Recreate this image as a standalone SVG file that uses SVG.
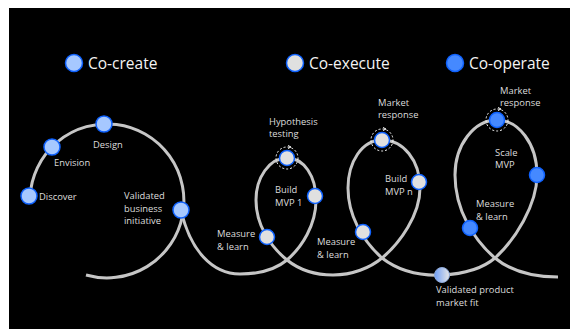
<svg xmlns="http://www.w3.org/2000/svg" width="570" height="329" viewBox="0 0 570 329">
<defs>
<linearGradient id="pmf" x1="0" y1="0" x2="1" y2="0">
<stop offset="0" stop-color="#6f9ef5"/>
<stop offset="1" stop-color="#e6e6e6"/>
</linearGradient>
<style>
.curve{fill:none;stroke:#c6c6c6;stroke-width:3;stroke-linecap:butt}
.create{fill:#a6c8ff;stroke:#0f62fe;stroke-width:1.5}
.execute{fill:#e0e0e0;stroke:#0f62fe;stroke-width:1.5}
.operate{fill:#4589ff;stroke:#0f62fe;stroke-width:1.5}
.ring{fill:none;stroke:#ffffff;stroke-width:1;stroke-dasharray:2 2}
.arr{fill:none;stroke:#ffffff;stroke-width:1}
.title{font-family:"Open Sans","Noto Sans",sans-serif;font-size:15.5px;fill:#f4f4f4}
.lbl{font-family:"Open Sans","Noto Sans",sans-serif;font-size:9.4px;fill:#dcdcdc}
</style>
</defs>
<rect x="0" y="0" width="570" height="329" fill="#ffffff"/>
<rect x="9" y="8" width="561" height="321" fill="#000000"/>

<g id="connectors">
<path class="curve" d="M30,197 A77,77 0 1 1 86,275"/>
<path class="curve" d="M181,210 C190,250 212,274 240,274 C258,274 275,270 287,260 C302,247 316,225 316,200 C316,176 304,158 287,158 C269,158 256,178 256,200 C256,225 270,246 287,260 C302,272 317,275 333,275 C352,275 370,268 382,258 C400,243 420,215 420,188 C420,160 403,140 382,140 C362,140 348,162 348,188 C348,215 362,240 382,258 C400,272 420,276 442,275 C463,274 482,269 495,258 C515,240 537,205 537,175 C537,143 518,120 497,120 C474,120 455,145 455,175 C455,210 474,240 495,258 C512,272 535,277 558,277"/>
</g>

<g id="legend-co-create"><circle class="create" cx="74" cy="63" r="8.5"/><text class="title" x="88" y="69">Co-create</text></g>
<g id="legend-co-execute"><circle class="execute" cx="295" cy="63" r="8.5"/><text class="title" x="309" y="69">Co-execute</text></g>
<g id="legend-co-operate"><circle class="operate" cx="455" cy="63" r="8.5"/><text class="title" x="469" y="69">Co-operate</text></g>

<g id="discover"><circle class="create" cx="29" cy="196" r="8"/><text class="lbl" x="39" y="200">Discover</text></g>
<g id="envision"><circle class="create" cx="52" cy="147" r="8"/><text class="lbl" x="54" y="166">Envision</text></g>
<g id="design"><circle class="create" cx="104" cy="124" r="8"/><text class="lbl" x="93" y="148">Design</text></g>
<g id="validated-business"><circle class="create" cx="181" cy="210" r="8"/><text class="lbl" x="124" y="199">Validated</text><text class="lbl" x="124" y="212">business</text><text class="lbl" x="124" y="224">initiative</text></g>

<g id="hypothesis"><circle class="ring" cx="287" cy="158" r="11"/><path class="arr" d="M288,145.5 L291,147 L288,148.5"/><circle class="execute" cx="287" cy="158" r="7.5"/><text class="lbl" x="269" y="125">Hypothesis</text><text class="lbl" x="269" y="137">testing</text></g>
<g id="build-mvp1"><circle class="execute" cx="315" cy="196" r="7.5"/><text class="lbl" x="275" y="193">Build</text><text class="lbl" x="275" y="206">MVP 1</text></g>
<g id="measure1"><circle class="execute" cx="267" cy="237" r="7.5"/><text class="lbl" x="217" y="237">Measure</text><text class="lbl" x="217" y="250">&amp; learn</text></g>

<g id="market-response-n"><circle class="ring" cx="382" cy="140" r="11"/><path class="arr" d="M383,127.5 L386,129 L383,130.5"/><circle class="execute" cx="382" cy="140" r="7.5"/><text class="lbl" x="378" y="106">Market</text><text class="lbl" x="378" y="118">response</text></g>
<g id="build-mvpn"><circle class="execute" cx="419" cy="182" r="7.5"/><text class="lbl" x="385" y="182">Build</text><text class="lbl" x="385" y="195">MVP n</text></g>
<g id="measure2"><circle class="execute" cx="363" cy="232" r="7.5"/><text class="lbl" x="317" y="245">Measure</text><text class="lbl" x="317" y="258">&amp; learn</text></g>

<g id="validated-pmf"><circle cx="442" cy="275" r="7.5" fill="url(#pmf)" stroke="#8da9d8" stroke-width="1"/><text class="lbl" x="436" y="293">Validated product</text><text class="lbl" x="436" y="306">market fit</text></g>

<g id="market-response-op"><circle class="ring" cx="497" cy="120" r="11"/><path class="arr" d="M498,107.5 L501,109 L498,110.5"/><circle class="operate" cx="497" cy="120" r="7.5"/><text class="lbl" x="500" y="94">Market</text><text class="lbl" x="500" y="106">response</text></g>
<g id="scale-mvp"><circle class="operate" cx="537" cy="175" r="7.5"/><text class="lbl" x="495" y="156">Scale</text><text class="lbl" x="495" y="168">MVP</text></g>
<g id="measure3"><circle class="operate" cx="470" cy="228" r="7.5"/><text class="lbl" x="476" y="207">Measure</text><text class="lbl" x="476" y="220">&amp; learn</text></g>
</svg>
